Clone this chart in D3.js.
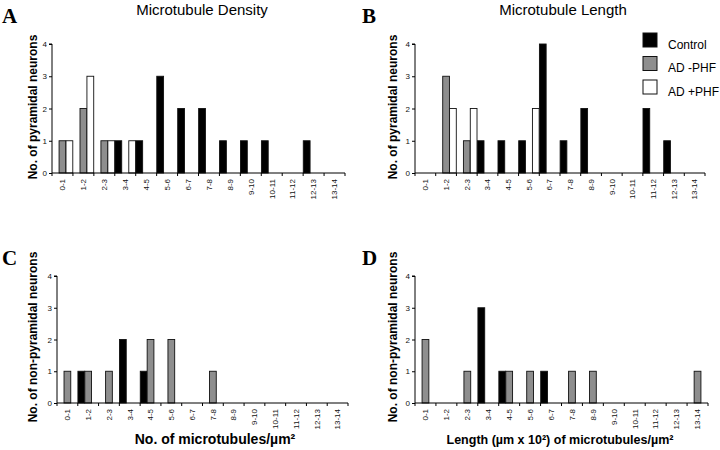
<!DOCTYPE html>
<html>
<head>
<meta charset="utf-8">
<script src="https://cdn.jsdelivr.net/npm/d3@7"></script>
<style>
  html, body { margin: 0; padding: 0; background: #fff; }
  svg { display: block; }
  text { font-family: "Liberation Sans", Arial, Helvetica, sans-serif; }
</style>
</head>
<body>
<svg id="chart" width="720" height="450"></svg>
<script>
// ---------- data ----------
const categories = ["0-1","1-2","2-3","3-4","4-5","5-6","6-7","7-8","8-9","9-10","10-11","11-12","12-13","13-14"];
const seriesNames = ["Control", "AD -PHF", "AD +PHF"];
const yTicks = [0, 1, 2, 3, 4];

// A: microtubule density, pyramidal neurons
const densityPyrControl = [0,0,0,1,1,3,2,2,1,1,1,0,1,0];
const densityPyrADminus = [1,2,1,0,0,0,0,0,0,0,0,0,0,0];
const densityPyrADplus  = [1,3,1,1,0,0,0,0,0,0,0,0,0,0];
// B: microtubule length, pyramidal neurons
const lengthPyrControl  = [0,0,0,1,1,1,4,1,2,0,0,2,1,0];
const lengthPyrADminus  = [0,3,1,0,0,0,0,0,0,0,0,0,0,0];
const lengthPyrADplus   = [0,2,2,0,0,2,0,0,0,0,0,0,0,0];
// C: microtubule density, non-pyramidal neurons
const densityNonControl = [0,1,0,2,1,0,0,0,0,0,0,0,0,0];
const densityNonADminus = [1,1,1,0,2,2,0,1,0,0,0,0,0,0];
const densityNonADplus  = [0,0,0,0,0,0,0,0,0,0,0,0,0,0];
// D: microtubule length, non-pyramidal neurons
const lengthNonControl  = [0,0,0,3,1,0,1,0,0,0,0,0,0,0];
const lengthNonADminus  = [2,0,1,0,1,1,0,1,1,0,0,0,0,1];
const lengthNonADplus   = [0,0,0,0,0,0,0,0,0,0,0,0,0,0];

// ---------- drawing ----------
const svg = d3.select("#chart");
const colors = { "Control": "#000000", "AD -PHF": "#8e8e8e", "AD +PHF": "#ffffff" };

const panels = [
  { letter: "A", lx: 2, ly: 23, title: "Microtubule Density", tx: 202, x0: 52, x1: 345, yTop: 44, yBot: 173,
    ylabel: "No. of pyramidal neurons", ylx: 37, yly: 107,
    data: [densityPyrControl, densityPyrADminus, densityPyrADplus] },
  { letter: "B", lx: 362, ly: 23, title: "Microtubule Length", tx: 563, x0: 415, x1: 705, yTop: 44, yBot: 173,
    ylabel: "No. of pyramidal neurons", ylx: 397, yly: 107,
    data: [lengthPyrControl, lengthPyrADminus, lengthPyrADplus] },
  { letter: "C", lx: 2, ly: 265, x0: 57, x1: 348, yTop: 276, yBot: 403,
    ylabel: "No. of non-pyramidal neurons", ylx: 37, yly: 337,
    xlabel: "No. of microtubules/\u00b5m\u00b2", xlx: 215, xly: 444, xls: 14,
    data: [densityNonControl, densityNonADminus, densityNonADplus] },
  { letter: "D", lx: 362, ly: 265, x0: 415, x1: 708, yTop: 276, yBot: 403,
    ylabel: "No. of non-pyramidal neurons", ylx: 397, yly: 337,
    xlabel: "Length (\u00b5m x 10\u00b2) of microtubules/\u00b5m\u00b2", xlx: 560, xly: 444, xls: 12.5,
    data: [lengthNonControl, lengthNonADminus, lengthNonADplus] }
];

panels.forEach(p => {
  const g = svg.append("g");
  const x = d3.scaleBand().domain(categories).range([p.x0, p.x1]).paddingInner(0).paddingOuter(0);
  const xs = d3.scaleBand().domain(seriesNames).range([0, x.bandwidth()]).padding(0.02);
  const y = d3.scaleLinear().domain([0, 4]).range([p.yBot, p.yTop]);

  // panel letter
  g.append("text").attr("x", p.lx).attr("y", p.ly)
    .style("font-family", "'Liberation Serif', 'Times New Roman', serif")
    .style("font-weight", "bold").style("font-size", "21px").text(p.letter);

  if (p.title) {
    g.append("text").attr("x", p.tx).attr("y", 15).attr("text-anchor", "middle")
      .style("font-size", "15px").text(p.title);
  }

  // bars
  const flat = [];
  p.data.forEach((arr, si) => arr.forEach((v, ci) => {
    if (v > 0) flat.push({ cat: categories[ci], s: seriesNames[si], v });
  }));
  g.selectAll("rect.bar").data(flat).enter().append("rect")
    .attr("class", "bar")
    .attr("x", d => x(d.cat) + xs(d.s))
    .attr("width", xs.bandwidth())
    .attr("y", d => y(d.v))
    .attr("height", d => y(0) - y(d.v))
    .attr("fill", d => colors[d.s])
    .attr("stroke", "#111").attr("stroke-width", 0.9);

  // y axis
  const yAxis = d3.axisLeft(y).tickValues(yTicks).tickSize(3).tickPadding(2).tickFormat(d3.format("d"));
  const ya = g.append("g").attr("transform", `translate(${p.x0},0)`).call(yAxis);
  ya.select(".domain").attr("d", `M-3,${p.yTop}H0V${p.yBot}`).attr("stroke", "#000");
  ya.selectAll("text").style("font-size", "8px").style("font-family", "'Liberation Sans', Arial, sans-serif").attr("fill", "#111");

  // x axis
  const xAxis = d3.axisBottom(x).tickSize(0).tickFormat("");
  const xa = g.append("g").attr("transform", `translate(0,${p.yBot})`).call(xAxis);
  xa.select(".domain").attr("d", `M${p.x0},0H${p.x1}`).attr("stroke", "#000");
  // boundary tick marks
  const bounds = categories.map(c => x(c)).concat([p.x1]);
  xa.selectAll("line.bt").data(bounds).enter().append("line").attr("class", "bt")
    .attr("x1", d => d).attr("x2", d => d).attr("y1", 0).attr("y2", 3)
    .attr("stroke", "#000").attr("stroke-width", 1);
  // rotated category labels
  xa.selectAll("text.cl").data(categories).enter().append("text").attr("class", "cl")
    .attr("transform", d => `translate(${x(d) + x.bandwidth() / 2 + 2.8},6) rotate(-90)`)
    .attr("text-anchor", "end")
    .style("font-size", "8px").attr("fill", "#111").text(d => d);

  // y label
  g.append("text").attr("transform", `translate(${p.ylx},${p.yly}) rotate(-90)`)
    .attr("text-anchor", "middle").style("font-weight", "bold").style("font-size", "12px")
    .text(p.ylabel);

  if (p.xlabel) {
    g.append("text").attr("x", p.xlx).attr("y", p.xly).attr("text-anchor", "middle")
      .style("font-weight", "bold").style("font-size", p.xls + "px").text(p.xlabel);
  }
});

// legend (panel B)
const legendY = [33, 56.5, 80];
const lg = svg.append("g");
seriesNames.forEach((s, i) => {
  lg.append("rect").attr("x", 643).attr("y", legendY[i]).attr("width", 14).attr("height", 14)
    .attr("fill", colors[s]).attr("stroke", "#111").attr("stroke-width", 1);
  lg.append("text").attr("x", 668).attr("y", legendY[i] + 15.5).style("font-size", "12px").text(s);
});
</script>
</body>
</html>
